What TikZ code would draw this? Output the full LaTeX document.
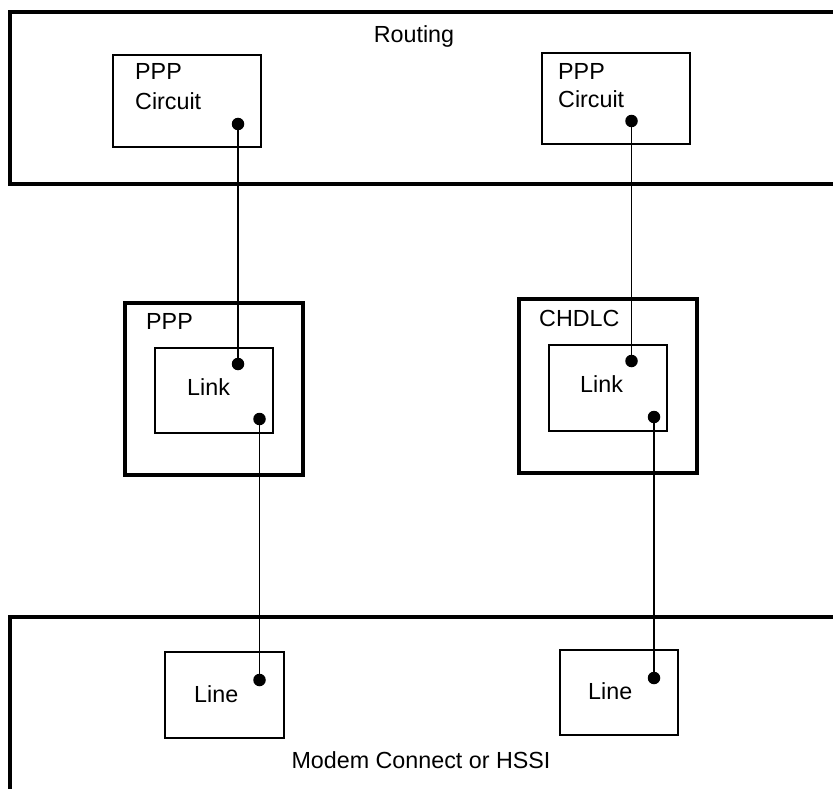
\documentclass[tikz,border=0pt]{standalone}
\usepackage{fontspec}
\setmainfont{Liberation Sans}
\begin{document}
\begin{tikzpicture}[x=1pt,y=-1pt,
  frame/.style={line width=3.4pt},
  outerbox/.style={draw,line width=3.3pt,outer sep=0pt,inner sep=0pt},
  innerbox/.style={draw,line width=2.3pt,outer sep=0pt,inner sep=0pt},
  lbl/.style={inner sep=0pt,anchor=base west,font=\fontsize{23.3}{27}\selectfont},
  clbl/.style={inner sep=0pt,anchor=base,font=\fontsize{23.3}{27}\selectfont},
  dot/.style={circle,fill,inner sep=0pt,minimum size=12.5pt},
  wire/.style={line width=1.2pt}]
\useasboundingbox (0,0) rectangle (833,789);
% big frames (open on the right / bottom)
\draw[frame] (845,12) -- (10,12) -- (10,184) -- (845,184);
\draw[frame] (845,617) -- (10,617) -- (10,800);
\node[clbl] (routing) at (414,43) {Routing};
\node[clbl] (modem) at (421,768) {Modem Connect or HSSI};
% top circuit boxes
\node[innerbox,minimum width=148pt,minimum height=92pt] (c1) at (187,101) {};
\node[lbl] (c1a) at (135,80) {PPP};
\node[lbl] (c1b) at (135,110) {Circuit};
\node[innerbox,minimum width=148pt,minimum height=91pt] (c2) at (616,98.5) {};
\node[lbl] (c2a) at (558,80) {PPP};
\node[lbl] (c2b) at (558,108) {Circuit};
% middle boxes
\node[outerbox,minimum width=178pt,minimum height=172pt] (p1) at (214,389) {};
\node[lbl] (p1a) at (146,329) {PPP};
\node[innerbox,minimum width=118pt,minimum height=85pt] (l1) at (214,390.5) {};
\node[lbl] (l1a) at (187,395) {Link};
\node[outerbox,minimum width=178pt,minimum height=174pt] (p2) at (608,386) {};
\node[lbl] (p2a) at (539,326) {CHDLC};
\node[innerbox,minimum width=118pt,minimum height=86pt] (l2) at (608,388) {};
\node[lbl] (l2a) at (580,392) {Link};
% bottom line boxes
\node[innerbox,minimum width=119pt,minimum height=86pt] (n1) at (224.5,695) {};
\node[lbl] (n1a) at (194,702) {Line};
\node[innerbox,minimum width=118pt,minimum height=85pt] (n2) at (619,692.5) {};
\node[lbl] (n2a) at (588,699) {Line};
% dots
\node[dot] (d1) at (238,124) {};
\node[dot] (d2) at (238,364) {};
\node[dot] (d3) at (259.5,419) {};
\node[dot] (d4) at (259.5,680) {};
\node[dot] (e1) at (631.5,121) {};
\node[dot] (e2) at (631.5,361) {};
\node[dot] (e3) at (654,417) {};
\node[dot] (e4) at (654,678) {};
% connectors
\draw[wire] (d1.center) -- (d2.center);
\draw[wire] (d3.center) -- (d4.center);
\draw[wire] (e1.center) -- (e2.center);
\draw[wire] (e3.center) -- (e4.center);
\end{tikzpicture}
\end{document}
